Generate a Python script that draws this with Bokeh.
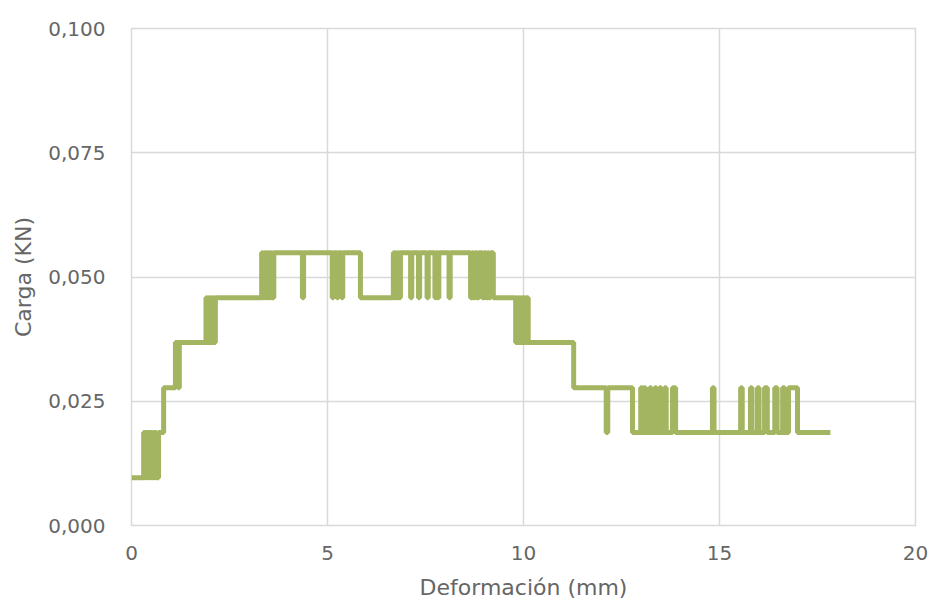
from bokeh.plotting import figure
from bokeh.models import FixedTicker, Range1d
from bokeh.embed import file_html
from bokeh.resources import INLINE

# Load-cell resolution levels (kN)
A, B, C, D, E, F = 0.0096, 0.0187, 0.0277, 0.0368, 0.0458, 0.0549

# Deformation (mm) where the load reading changes, and the reading from there on
deformacion = [
    0.00, 0.31, 0.34, 0.37, 0.40, 0.43, 0.46, 0.49, 0.52, 0.55, 0.58, 0.61, 0.64, 0.69,
    0.82, 1.12, 1.19, 1.22,
    1.90, 1.93, 1.96, 1.99, 2.02, 2.05, 2.08, 2.11, 2.14,
    3.32, 3.35, 3.38, 3.41, 3.44, 3.47, 3.50, 3.53, 3.56, 3.59, 3.63,
    4.36, 4.39, 5.12, 5.15, 5.24, 5.27, 5.36, 5.39, 5.84,
    6.68, 6.71, 6.74, 6.77, 6.80, 6.83, 6.86, 6.91,
    7.12, 7.15, 7.32, 7.35, 7.54, 7.57, 7.74, 7.77, 7.81, 7.84,
    8.10, 8.13, 8.65, 8.69, 8.73, 8.77, 8.82, 8.86, 8.95, 8.99,
    9.04, 9.08, 9.12, 9.16, 9.23,
    9.80, 9.83, 9.86, 9.89, 9.92, 9.95, 9.98, 10.01, 10.04, 10.07, 10.12,
    11.28, 12.11, 12.15, 12.78,
    12.99, 13.03, 13.07, 13.11, 13.22, 13.26, 13.35, 13.39, 13.47, 13.51,
    13.60, 13.64, 13.80, 13.88,
    14.82, 14.86, 15.54, 15.58, 15.79, 15.83, 15.97, 16.01, 16.15, 16.22,
    16.41, 16.47, 16.61, 16.66, 16.76, 16.99,
    17.83,
]
carga = [
    A, B, A, B, A, B, A, B, A, B, A, B, A, B,
    C, D, C, D,
    E, D, E, D, E, D, E, D, E,
    F, E, F, E, F, E, F, E, F, E, F,
    E, F, E, F, E, F, E, F, E,
    F, E, F, E, F, E, F, F,
    E, F, E, F, E, F, E, F, E, F,
    E, F, E, F, E, F, E, F, E, F,
    E, F, E, F, E,
    D, E, D, E, D, E, D, E, D, E, D,
    C, B, C, B,
    C, B, C, B, C, B, C, B, C, B,
    C, B, C, B,
    C, B, C, B, C, B, C, B, C, B,
    C, B, C, B, C, B,
    B,
]

x_ticks = [0, 5, 10, 15, 20]
y_ticks = [0.0, 0.025, 0.05, 0.075, 0.1]
y_labels = ["0,000", "0,025", "0,050", "0,075", "0,100"]

FONT = "DejaVu Sans"
TEXT = "#666666"
GRID = "#d9d9d9"

p = figure(
    width=931, height=602,
    output_backend="svg", toolbar_location=None,
    x_range=Range1d(0, 20), y_range=Range1d(0, 0.1),
    min_border_left=131, min_border_right=16,
    min_border_top=28, min_border_bottom=76,
)
p.outline_line_color = GRID
p.outline_line_width = 1.5
p.background_fill_color = "white"
p.border_fill_color = "white"

p.step(deformacion, carga, mode="after", line_color="#a3b560", line_width=5)

for ax in (p.xaxis, p.yaxis):
    ax.axis_line_color = None
    ax.major_tick_line_color = None
    ax.minor_tick_line_color = None
    ax.major_label_text_font = FONT
    ax.major_label_text_font_size = "20px"
    ax.major_label_text_color = TEXT
    ax.axis_label_text_font = FONT
    ax.axis_label_text_font_size = "22px"
    ax.axis_label_text_font_style = "normal"
    ax.axis_label_text_color = TEXT

p.xaxis.ticker = FixedTicker(ticks=x_ticks)
p.yaxis.ticker = FixedTicker(ticks=y_ticks)
p.yaxis.major_label_overrides = dict(zip(y_ticks, y_labels))
p.xaxis.major_label_standoff = 14
p.yaxis.major_label_standoff = 20
p.xaxis.axis_label = "Deformación (mm)"
p.yaxis.axis_label = "Carga (KN)"
p.xaxis.axis_label_standoff = 12
p.yaxis.axis_label_standoff = 9

for g in (p.xgrid, p.ygrid):
    g.grid_line_color = GRID
    g.grid_line_width = 1.5

open("out.html", "w").write(file_html(p, INLINE))
